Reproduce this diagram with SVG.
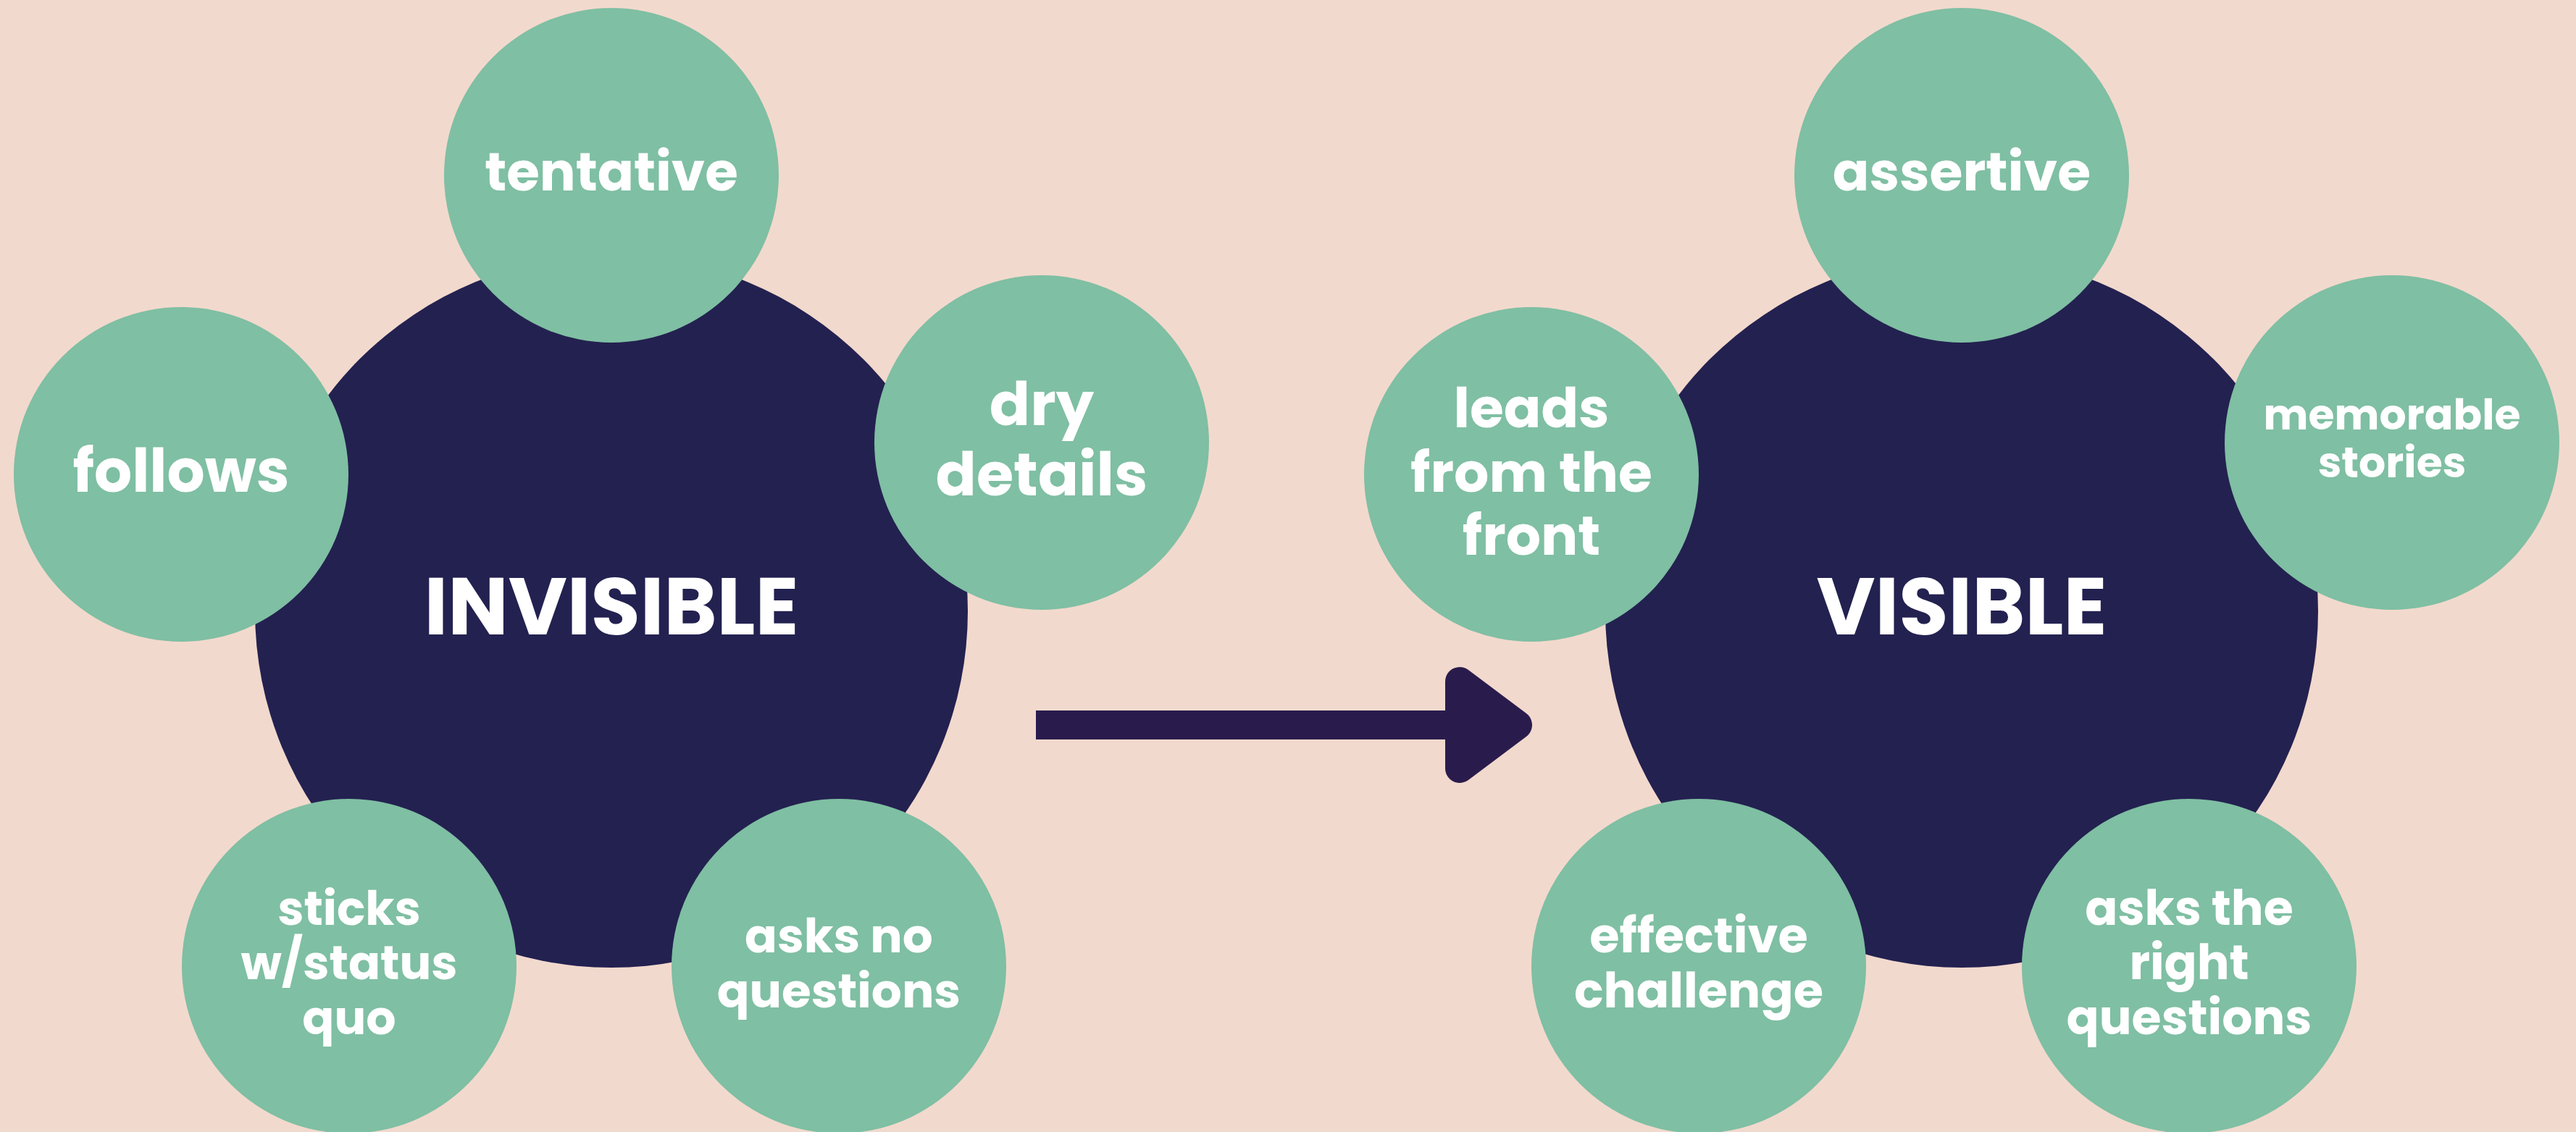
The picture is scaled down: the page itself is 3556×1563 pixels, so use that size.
<svg xmlns="http://www.w3.org/2000/svg" width="3556" height="1563" viewBox="0 0 3556 1563">
<style>
.bg{fill:#f2d9cd}
.core{fill:#232150}
.pet{fill:#7fbfa3}
.t{font-family:"Poppins","Open Sans","Noto Sans",sans-serif;font-weight:700;fill:#ffffff;text-anchor:middle}
.big{font-size:111px}
</style>
<rect class="bg" x="0" y="0" width="3556" height="1563"/>
<g id="connectors">
<rect x="1430" y="981" width="567" height="40" fill="#291c4d"/>
<polygon points="2015,941 2095,1001 2015,1061" fill="#291c4d" stroke="#291c4d" stroke-width="40" stroke-linejoin="round"/>
</g>
<g id="invisible">
<circle class="core" cx="844" cy="844" r="492"/>
<text class="t big" x="844" y="876">INVISIBLE</text>
</g>
<g id="tentative">
<circle class="pet" cx="844" cy="242" r="231"/>
<text class="t" x="844" y="263" font-size="74">tentative</text>
</g>
<g id="follows">
<circle class="pet" cx="250" cy="655" r="231"/>
<text class="t" x="250" y="679" font-size="82">follows</text>
</g>
<g id="dry-details">
<circle class="pet" cx="1438" cy="611" r="231"/>
<text class="t" x="1438" y="587" font-size="83">dry</text>
<text class="t" x="1438" y="684" font-size="83">details</text>
</g>
<g id="sticks">
<circle class="pet" cx="482" cy="1334" r="231"/>
<text class="t" x="482" y="1277" font-size="65">sticks</text>
<text class="t" x="482" y="1352" font-size="65">w/status</text>
<text class="t" x="482" y="1428" font-size="65">quo</text>
</g>
<g id="asks-no-questions">
<circle class="pet" cx="1158" cy="1334" r="231"/>
<text class="t" x="1158" y="1315" font-size="66">asks no</text>
<text class="t" x="1158" y="1391" font-size="66">questions</text>
</g>
<g id="visible">
<circle class="core" cx="2708" cy="844" r="492"/>
<text class="t big" x="2708" y="876">VISIBLE</text>
</g>
<g id="assertive">
<circle class="pet" cx="2708" cy="242" r="231"/>
<text class="t" x="2708" y="263" font-size="74.5">assertive</text>
</g>
<g id="leads">
<circle class="pet" cx="2114" cy="655" r="231"/>
<text class="t" x="2114" y="590" font-size="76">leads</text>
<text class="t" x="2114" y="679" font-size="76">from the</text>
<text class="t" x="2114" y="766" font-size="76">front</text>
</g>
<g id="memorable">
<circle class="pet" cx="3302" cy="611" r="231"/>
<text class="t" x="3302" y="593" font-size="58.5">memorable</text>
<text class="t" x="3302" y="659" font-size="58.5">stories</text>
</g>
<g id="effective">
<circle class="pet" cx="2345" cy="1334" r="231"/>
<text class="t" x="2345" y="1315" font-size="67">effective</text>
<text class="t" x="2345" y="1391" font-size="67">challenge</text>
</g>
<g id="asks-right">
<circle class="pet" cx="3022" cy="1334" r="231"/>
<text class="t" x="3022" y="1277" font-size="66.5">asks the</text>
<text class="t" x="3022" y="1352" font-size="66.5">right</text>
<text class="t" x="3022" y="1428" font-size="66.5">questions</text>
</g>
</svg>
